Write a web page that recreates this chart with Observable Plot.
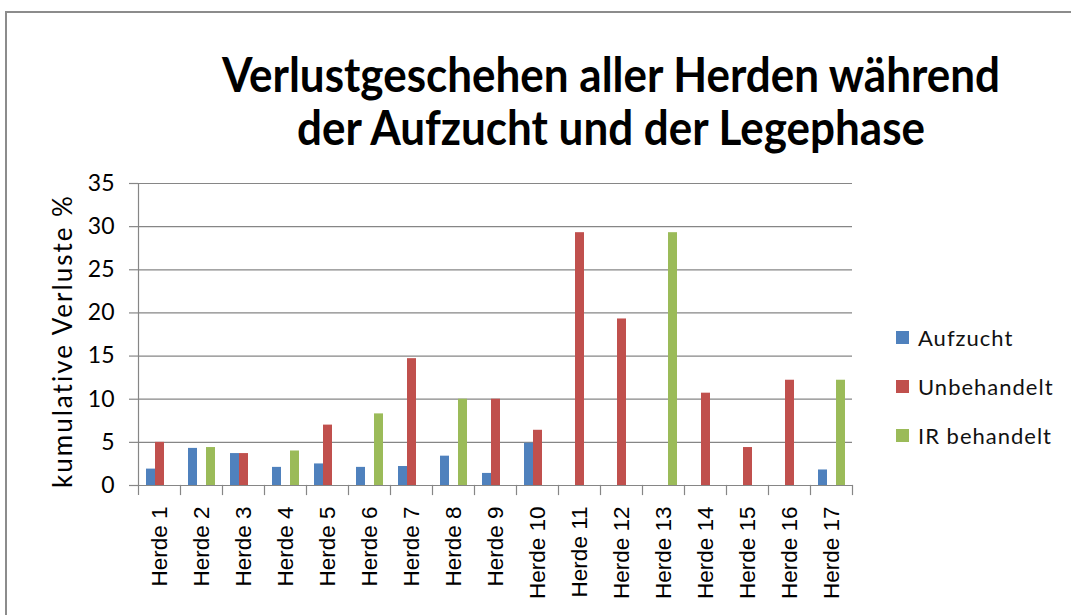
<!DOCTYPE html>
<html>
<head>
<meta charset="utf-8">
<script src="https://cdn.jsdelivr.net/npm/d3@7"></script>
<script src="https://cdn.jsdelivr.net/npm/@observablehq/plot@0.6"></script>
<style>
  body { margin: 0; background: #fff; }
  #wrap { position: relative; width: 1071px; height: 615px; overflow: hidden; font-family: Lato, sans-serif; background: #fff; }
  #border { position: absolute; left: 5px; top: 11px; width: 1200px; height: 800px; border-left: 2px solid #8c8c8c; border-top: 2px solid #8c8c8c; }
  #chart { position: absolute; left: 0; top: 0; }
  #title { position: absolute; left: 211px; top: 47px; width: 800px; text-align: center; font-weight: 700; font-size: 44px; line-height: 48px; color: #000; white-space: nowrap; transform: scaleY(1.1); transform-origin: 50% 0; }
  #ylabel { position: absolute; left: 62px; top: 341px; transform: translate(-50%, -50%) rotate(-90deg); font-size: 26px; letter-spacing: 2px; color: #000; white-space: nowrap; }
  #legend { position: absolute; left: 896px; top: 325px; }
  .item { display: flex; align-items: center; height: 24px; margin-bottom: 25px; }
  .sw { width: 13px; height: 13px; margin-right: 9px; }
  .lab { font-size: 22px; letter-spacing: 1px; color: #111; white-space: nowrap; }
</style>
</head>
<body>
<div id="wrap">
  <div id="border"></div>
  <div id="chart"></div>
  <div id="title">Verlustgeschehen aller Herden während<br>der Aufzucht und der Legephase</div>
  <div id="ylabel"></div>
  <div id="legend"></div>
</div>
<script>
const herds = ["Herde 1","Herde 2","Herde 3","Herde 4","Herde 5","Herde 6","Herde 7","Herde 8","Herde 9","Herde 10","Herde 11","Herde 12","Herde 13","Herde 14","Herde 15","Herde 16","Herde 17"];
const seriesNames = ["Aufzucht", "Unbehandelt", "IR behandelt"];
const seriesColors = ["#4F81BD", "#C0504D", "#9BBB59"];
const aufzucht    = [1.9, 4.3, 3.7, 2.1, 2.5, 2.1, 2.2, 3.4, 1.4, 4.9, null, null, null, null, null, null, 1.8];
const unbehandelt = [5.0, null, 3.7, null, 7.0, null, 14.7, null, 10.0, 6.4, 29.3, 19.3, null, 10.7, 4.4, 12.2, null];
const irBehandelt = [null, 4.4, null, 4.0, null, 8.3, null, 10.0, null, null, null, null, 29.3, null, null, null, 12.2];
const yTicks = [0, 5, 10, 15, 20, 25, 30, 35];
const yLabel = "kumulative Verluste %";

const seriesValues = [aufzucht, unbehandelt, irBehandelt];
const data = [];
herds.forEach((h, i) => {
  seriesNames.forEach((s, j) => {
    const v = seriesValues[j][i];
    if (v != null) data.push({herd: h, series: s, value: v});
  });
});

const gray = "#868686";

const chart = Plot.plot({
  width: 1071,
  height: 615,
  marginLeft: 136,
  marginRight: 218,
  marginTop: 183,
  marginBottom: 130,
  style: {fontFamily: "Lato, sans-serif", background: "transparent", overflow: "visible", color: "#000"},
  fx: {domain: herds, padding: 0, axis: null},
  x: {domain: seriesNames, paddingInner: 0, paddingOuter: 0.76, axis: null},
  y: {domain: [0, 35], axis: null},
  color: {domain: seriesNames, range: seriesColors},
  marks: [
    Plot.ruleY(yTicks, {stroke: gray, strokeWidth: 1.2}),
    Plot.barY(data, {fx: "herd", x: "series", y: "value", fill: "series"}),
    Plot.frame({anchor: "left", facetAnchor: "left", stroke: gray, strokeWidth: 1.2, insetBottom: -9}),
    Plot.frame({anchor: "right", stroke: gray, strokeWidth: 1.2, insetTop: 302, insetBottom: -9}),
    Plot.axisY(yTicks, {tickSize: 9, tickPadding: 15, stroke: gray, fill: "#000", fontSize: 23, label: null, strokeWidth: 1.2}),
    Plot.axisFx({anchor: "bottom", tickSize: 0, tickPadding: 21, tickRotate: -90, fontSize: 22.5, fontFamily: "'Liberation Sans', Arial, sans-serif", fill: "#000", label: null})
  ]
});
document.getElementById("chart").appendChild(chart);
document.getElementById("ylabel").textContent = yLabel;

const legend = document.getElementById("legend");
seriesNames.forEach((s, i) => {
  const item = document.createElement("div");
  item.className = "item";
  const sw = document.createElement("div");
  sw.className = "sw";
  sw.style.background = seriesColors[i];
  const lab = document.createElement("span");
  lab.className = "lab";
  lab.textContent = s;
  item.appendChild(sw);
  item.appendChild(lab);
  legend.appendChild(item);
});
</script>
</body>
</html>
